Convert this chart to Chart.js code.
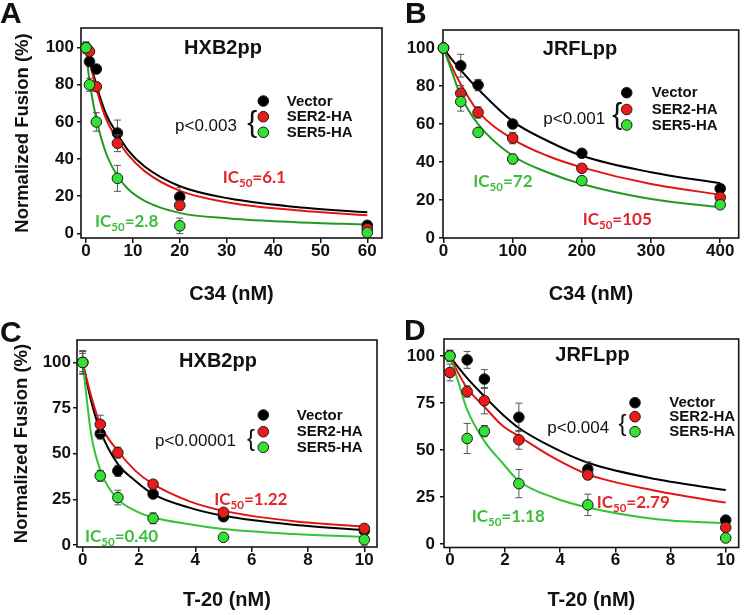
<!DOCTYPE html>
<html><head><meta charset="utf-8">
<script src="https://cdn.jsdelivr.net/npm/chart.js@4.4.0/dist/chart.umd.min.js"></script>
<style>
html,body{margin:0;padding:0;background:#fff;}
#wrap{position:relative;width:745px;height:615px;overflow:hidden;background:#fff;}
canvas{position:absolute;left:0;top:0;}
</style></head><body>
<div id="wrap">
<canvas id="cA" width="745" height="615"></canvas>
<canvas id="cB" width="745" height="615"></canvas>
<canvas id="cC" width="745" height="615"></canvas>
<canvas id="cD" width="745" height="615"></canvas>
</div>
<script>
// ---------- shared labels ----------
const SERIES = ['Vector', 'SER2-HA', 'SER5-HA'];

// ---------- Panel A : C34 on HXB2pp ----------
const A_CONC = [0, 0.74, 2.2, 6.7, 20, 60];
const A_VECTOR = [100, 92.5, 88.5, 54, 19.6, 4.3];
const A_VECTOR_ERR = [3, 2, 2, 7, 5, 1];
const A_SER2 = [100, 98, 79, 48.5, 15.1, 2.5];
const A_SER2_ERR = [2, 2, 2, 4.5, 2.5, 1];
const A_SER5 = [100, 80, 60, 29.6, 4, 0.4];
const A_SER5_ERR = [3, 3.5, 5, 7, 4.2, 1];
const A_FIT_X = [0, 0.4, 1.13, 2.3, 4.3, 6.7, 8.9, 12.5, 19.9, 30.6, 44.8, 60];
const A_FIT_VECTOR = [100, 96.5, 90, 79, 64, 53.5, 45, 36, 25.5, 18.7, 14.2, 11.3];
const A_FIT_SER2 = [100, 96, 88.5, 77, 61.5, 50.5, 42.5, 33.5, 23, 16.5, 12.4, 9.7];
const A_FIT_SER5 = [100, 89, 76, 60.5, 43, 31, 24, 17.5, 11, 8, 6, 4.7];
const A_XTICKS = [0, 10, 20, 30, 40, 50, 60];
const A_YTICKS = [0, 20, 40, 60, 80, 100];

// ---------- Panel B : C34 on JRFLpp ----------
const B_CONC = [0, 25, 50, 100, 200, 400];
const B_VECTOR = [100, 90.7, 80.5, 60, 44.6, 26];
const B_VECTOR_ERR = [1, 6, 3, 2, 1.5, 1.5];
const B_SER2 = [100, 76.2, 66.1, 52.6, 36.7, 21.4];
const B_SER2_ERR = [1, 4, 3, 3, 2, 1.5];
const B_SER5 = [100, 71.8, 55.6, 41.6, 30.2, 17.5];
const B_SER5_ERR = [1, 5, 1.5, 2.5, 1.5, 1.5];
const B_FIT_X = [0, 10, 25, 50, 100, 150, 200, 300, 400];
const B_FIT_VECTOR = [100, 95, 88.4, 78.4, 61.4, 51.2, 43.3, 34.6, 28.8];
const B_FIT_SER2 = [100, 91.6, 81, 66.7, 52.1, 43.3, 37.2, 28.4, 22.8];
const B_FIT_SER5 = [100, 89.8, 74.9, 60, 43.3, 34.6, 28.4, 20.5, 16.2];
const B_XTICKS = [0, 100, 200, 300, 400];
const B_YTICKS = [0, 20, 40, 60, 80, 100];

// ---------- Panel C : T-20 on HXB2pp ----------
const C_CONC = [0, 0.625, 1.25, 2.5, 5, 10];
const C_VECTOR = [100, 61, 40.6, 27.9, 15.5, 7.8];
const C_VECTOR_ERR = [6, 3, 3, 1.5, 1.5, 1.5];
const C_SER2 = [100, 66.1, 50.6, 33.3, 17.9, 9.1];
const C_SER2_ERR = [5, 5, 3, 2, 1.5, 1.5];
const C_SER5 = [100, 37.9, 26, 14.6, 4.2, 2.9];
const C_SER5_ERR = [6.5, 3, 4, 3, 1, 3];
const C_FIT_X = [0, 0.3, 0.625, 1.25, 1.875, 2.5, 3.75, 5, 7.5, 10];
const C_FIT_VECTOR = [100, 78.9, 62.5, 44.3, 35.1, 27.9, 20.6, 16, 11.1, 8.2];
const C_FIT_SER2 = [100, 81.6, 66, 51.5, 40.6, 33.3, 24.2, 18.7, 13, 10];
const C_FIT_SER5 = [100, 60.7, 41, 25.1, 18.7, 15.1, 11.5, 8.7, 6, 4.5];
const C_XTICKS = [0, 2, 4, 6, 8, 10];
const C_YTICKS = [0, 25, 50, 75, 100];

// ---------- Panel D : T-20 on JRFLpp ----------
const D_CONC = [0, 0.625, 1.25, 2.5, 5, 10];
const D_VECTOR = [100, 97.9, 87.7, 67.4, 39.7, 12.7];
const D_VECTOR_ERR = [3, 4.5, 5, 7.5, 4, 1.5];
const D_SER2 = [91.2, 81.1, 76.2, 55.4, 36.7, 8.8];
const D_SER2_ERR = [4.5, 3, 7, 5, 2, 1.5];
const D_SER5 = [100, 56.1, 60, 32.1, 20.8, 3.2];
const D_SER5_ERR = [3, 8, 3, 7.5, 5.7, 1.5];
const D_FIT_X = [0, 0.3, 0.625, 1.25, 1.9, 2.5, 3.75, 5, 7.5, 10];
const D_FIT_VECTOR = [100, 94, 88.2, 78.5, 69, 61.7, 51.2, 43.2, 34.4, 28.7];
const D_FIT_SER2 = [100, 91, 82.9, 73, 63, 57.3, 45.9, 37, 28.2, 22];
const D_FIT_SER5 = [100, 86.4, 71.4, 54.7, 43.2, 33.5, 24.7, 19.4, 13.2, 11];
const D_XTICKS = [0, 2, 4, 6, 8, 10];
const D_YTICKS = [0, 25, 50, 75, 100];

// ---------- styling ----------
const FONT = '"Liberation Sans", Arial, sans-serif';
const PT_FILL = ['#000000', '#ee1a1a', '#35e035'];
const RED_LINE = '#e31414';
const RED_TXT = '#e0262b', GREEN_TXT = '#3dbd3d';

function pts(xs, ys) { return xs.map((x, i) => ({ x: x, y: ys[i] })); }

function drawIC(ctx, x, y, color, val) {
  ctx.fillStyle = color; ctx.textAlign = 'left'; ctx.textBaseline = 'alphabetic';
  ctx.font = 'bold 17px Lato, "Open Sans", sans-serif';
  ctx.fillText('IC', x, y);
  let w = ctx.measureText('IC').width;
  ctx.font = 'bold 11.5px Lato, "Open Sans", sans-serif';
  ctx.fillText('50', x + w, y + 4);
  w += ctx.measureText('50').width;
  ctx.font = 'bold 17px Lato, "Open Sans", sans-serif';
  ctx.fillText('=' + val, x + w, y);
}

function makePlugin(P) {
  return {
    id: 'panel' + P.letter,
    beforeDatasetsDraw(chart) {
      const a = chart.chartArea, ctx = chart.ctx;
      ctx.save(); ctx.strokeStyle = '#151515'; ctx.lineWidth = 1.6;
      ctx.strokeRect(a.left, a.top, a.right - a.left, a.bottom - a.top);
      ctx.restore();
    },
    beforeDatasetDraw(chart, args) {
      const ds = chart.data.datasets[args.index];
      if (!ds.err) return;
      const xs = chart.scales.x, ys = chart.scales.y, ctx = chart.ctx;
      ctx.save(); ctx.strokeStyle = '#555'; ctx.lineWidth = 1;
      ds.data.forEach((p, i) => {
        const e = ds.err[i]; if (!e) return;
        const px = xs.getPixelForValue(p.x);
        const y1 = ys.getPixelForValue(p.y + e), y2 = ys.getPixelForValue(p.y - e);
        ctx.beginPath();
        ctx.moveTo(px, y1); ctx.lineTo(px, y2);
        ctx.moveTo(px - 3.5, y1); ctx.lineTo(px + 3.5, y1);
        ctx.moveTo(px - 3.5, y2); ctx.lineTo(px + 3.5, y2);
        ctx.stroke();
      });
      ctx.restore();
    },
    afterDraw(chart) {
      const ctx = chart.ctx;
      ctx.save();
      ctx.fillStyle = '#111'; ctx.textAlign = 'left'; ctx.textBaseline = 'alphabetic';
      ctx.font = 'bold 30px ' + FONT;
      ctx.fillText(P.letter, P.letterPos[0], P.letterPos[1]);
      ctx.font = 'bold 20px ' + FONT; ctx.textAlign = 'center';
      ctx.fillText(P.title, P.titlePos[0], P.titlePos[1]);
      P.legY.forEach((y, i) => {
        ctx.beginPath(); ctx.arc(P.legDotX, y, 5.3, 0, 2 * Math.PI);
        ctx.fillStyle = PT_FILL[i]; ctx.fill();
        ctx.strokeStyle = '#1a1a1a'; ctx.lineWidth = 1; ctx.stroke();
        ctx.fillStyle = '#111'; ctx.font = 'bold 15px ' + FONT;
        ctx.textAlign = 'left'; ctx.textBaseline = 'middle';
        ctx.fillText(SERIES[i], P.legTextX, y + 0.5);
      });
      ctx.fillStyle = '#111';
      ctx.font = P.braceSize + 'px ' + FONT; ctx.textAlign = 'center'; ctx.textBaseline = 'middle';
      ctx.fillText('{', P.brace[0], P.brace[1] - 2);
      ctx.font = '17px ' + FONT; ctx.textAlign = 'left'; ctx.textBaseline = 'middle';
      ctx.fillText(P.pText, P.pPos[0], P.pPos[1]);
      drawIC(ctx, P.icRed[0], P.icRed[1], RED_TXT, P.icRed[2]);
      drawIC(ctx, P.icGreen[0], P.icGreen[1], GREEN_TXT, P.icGreen[2]);
      ctx.restore();
    }
  };
}

function buildPanel(id, P) {
  const series = [
    { y: P.vec, e: P.vecErr, fit: P.fitVec, line: '#000000', o: 3 },
    { y: P.s2, e: P.s2Err, fit: P.fitS2, line: RED_LINE, o: 2 },
    { y: P.s5, e: P.s5Err, fit: P.fitS5, line: P.greenLine, o: 1 }
  ];
  const datasets = [];
  series.forEach((s, i) => {
    datasets.push({ label: SERIES[i] + ' fit', data: pts(P.fitX, s.fit), showLine: true, borderColor: s.line,
      borderWidth: 2, pointRadius: 0, pointHoverRadius: 0, cubicInterpolationMode: 'monotone', fill: false, order: 10 + s.o, clip: false });
  });
  series.forEach((s, i) => {
    datasets.push({ label: SERIES[i], data: pts(P.conc, s.y), err: s.e, showLine: false, pointRadius: 5.3, pointHoverRadius: 5.3,
      pointBackgroundColor: PT_FILL[i], pointBorderColor: '#1a1a1a', pointBorderWidth: 1, order: s.o, clip: false });
  });
  const a = P.area;
  const tickFont = { family: FONT, size: 17, weight: 'bold' };
  return new Chart(document.getElementById(id), {
    type: 'scatter',
    data: { datasets: datasets },
    options: {
      responsive: false, animation: false, devicePixelRatio: 1,
      layout: { padding: { left: a[0] - P.yw, top: a[1], right: 745 - a[2], bottom: 615 - a[3] - P.xh } },
      plugins: { legend: { display: false }, tooltip: { enabled: false } },
      scales: {
        x: {
          type: 'linear', min: P.xr[0], max: P.xr[1],
          afterFit: s => { s.height = P.xh; },
          afterBuildTicks: s => { s.ticks = P.xticks.map(v => ({ value: v })); },
          ticks: { font: tickFont, color: '#111', padding: -2, maxRotation: 0, autoSkip: false },
          grid: { drawOnChartArea: false, drawTicks: true, tickLength: 5, color: '#151515', lineWidth: 1.5 },
          border: { display: false },
          title: { display: true, text: P.xtitle, color: '#111', font: { family: FONT, size: 20, weight: 'bold' }, padding: { top: 0, bottom: 0 } }
        },
        y: {
          type: 'linear', min: P.yr[0], max: P.yr[1],
          afterFit: s => { s.width = P.yw; },
          afterBuildTicks: s => { s.ticks = P.yticks.map(v => ({ value: v })); },
          ticks: { font: tickFont, color: '#111', padding: P.ypad, autoSkip: false },
          grid: { drawOnChartArea: false, drawTicks: true, tickLength: 4, color: '#151515', lineWidth: 1.5 },
          border: { display: false },
          title: { display: !!P.ytitle, text: P.ytitle || '', color: '#111', font: { family: FONT, size: 18.5, weight: 'bold' }, padding: { top: P.ytpad || 0, bottom: 0 } }
        }
      }
    },
    plugins: [makePlugin(P)]
  });
}

buildPanel('cA', {
  letter: 'A', conc: A_CONC, vec: A_VECTOR, vecErr: A_VECTOR_ERR, s2: A_SER2, s2Err: A_SER2_ERR, s5: A_SER5, s5Err: A_SER5_ERR,
  fitX: A_FIT_X, fitVec: A_FIT_VECTOR, fitS2: A_FIT_SER2, fitS5: A_FIT_SER5, xticks: A_XTICKS, yticks: A_YTICKS,
  greenLine: '#229a22', area: [81, 28, 382, 238], xr: [-1.07, 63.14], yr: [-2.53, 110.6], yw: 75, xh: 68, ypad: 3, ytpad: 6,
  xtitle: 'C34 (nM)', ytitle: 'Normalized Fusion (%)',
  letterPos: [0, 23], title: 'HXB2pp', titlePos: [223, 54],
  legDotX: 263.3, legY: [101, 116.7, 132.3], legTextX: 286.7, brace: [252.3, 126], braceSize: 30,
  pText: 'p<0.003', pPos: [175, 126.7], icRed: [222.7, 183.3, '6.1'], icGreen: [95, 226.7, '2.8']
});
buildPanel('cB', {
  letter: 'B', conc: B_CONC, vec: B_VECTOR, vecErr: B_VECTOR_ERR, s2: B_SER2, s2Err: B_SER2_ERR, s5: B_SER5, s5Err: B_SER5_ERR,
  fitX: B_FIT_X, fitVec: B_FIT_VECTOR, fitS2: B_FIT_SER2, fitS5: B_FIT_SER5, xticks: B_XTICKS, yticks: B_YTICKS,
  greenLine: '#229a22', area: [443, 30, 742, 238], xr: [-0.7, 426.7], yr: [0, 109.5], yw: 50, xh: 68, ypad: 4,
  xtitle: 'C34 (nM)', ytitle: null,
  letterPos: [405, 23], title: 'JRFLpp', titlePos: [580, 54.5],
  legDotX: 626.7, legY: [92.7, 109.5, 125], legTextX: 651.7, brace: [617.3, 117.3], braceSize: 30,
  pText: 'p<0.001', pPos: [543.3, 119.3], icRed: [582.7, 225, '105'], icGreen: [473.3, 186.7, '72']
});
buildPanel('cC', {
  letter: 'C', conc: C_CONC, vec: C_VECTOR, vecErr: C_VECTOR_ERR, s2: C_SER2, s2Err: C_SER2_ERR, s5: C_SER5, s5Err: C_SER5_ERR,
  fitX: C_FIT_X, fitVec: C_FIT_VECTOR, fitS2: C_FIT_SER2, fitS5: C_FIT_SER5, xticks: C_XTICKS, yticks: C_YTICKS,
  greenLine: '#33c433', area: [77, 340, 377, 547], xr: [-0.202, 10.45], yr: [-1.1, 112.3], yw: 70, xh: 65, ypad: 2, ytpad: 4,
  xtitle: 'T-20 (nM)', ytitle: 'Normalized Fusion (%)',
  letterPos: [0, 342], title: 'HXB2pp', titlePos: [218, 366.5],
  legDotX: 263.3, legY: [415, 431.7, 447.3], legTextX: 296.7, brace: [251, 441], braceSize: 24,
  pText: 'p<0.00001', pPos: [155, 441], icRed: [214.3, 505, '1.22'], icGreen: [85, 541.7, '0.40']
});
buildPanel('cD', {
  letter: 'D', conc: D_CONC, vec: D_VECTOR, vecErr: D_VECTOR_ERR, s2: D_SER2, s2Err: D_SER2_ERR, s5: D_SER5, s5Err: D_SER5_ERR,
  fitX: D_FIT_X, fitVec: D_FIT_VECTOR, fitS2: D_FIT_SER2, fitS5: D_FIT_SER5, xticks: D_XTICKS, yticks: D_YTICKS,
  greenLine: '#33c433', area: [444, 339, 744, 547.5], xr: [-0.214, 10.47], yr: [-1.86, 109], yw: 50, xh: 65, ypad: 5,
  xtitle: 'T-20 (nM)', ytitle: null,
  letterPos: [404, 340], title: 'JRFLpp', titlePos: [592.5, 360.5],
  legDotX: 635, legY: [402.7, 416.7, 431.7], legTextX: 669.3, brace: [622.5, 426], braceSize: 24,
  pText: 'p<0.004', pPos: [547.3, 428.3], icRed: [596.7, 508.3, '2.79'], icGreen: [471.7, 521.7, '1.18']
});
</script>
</body></html>
